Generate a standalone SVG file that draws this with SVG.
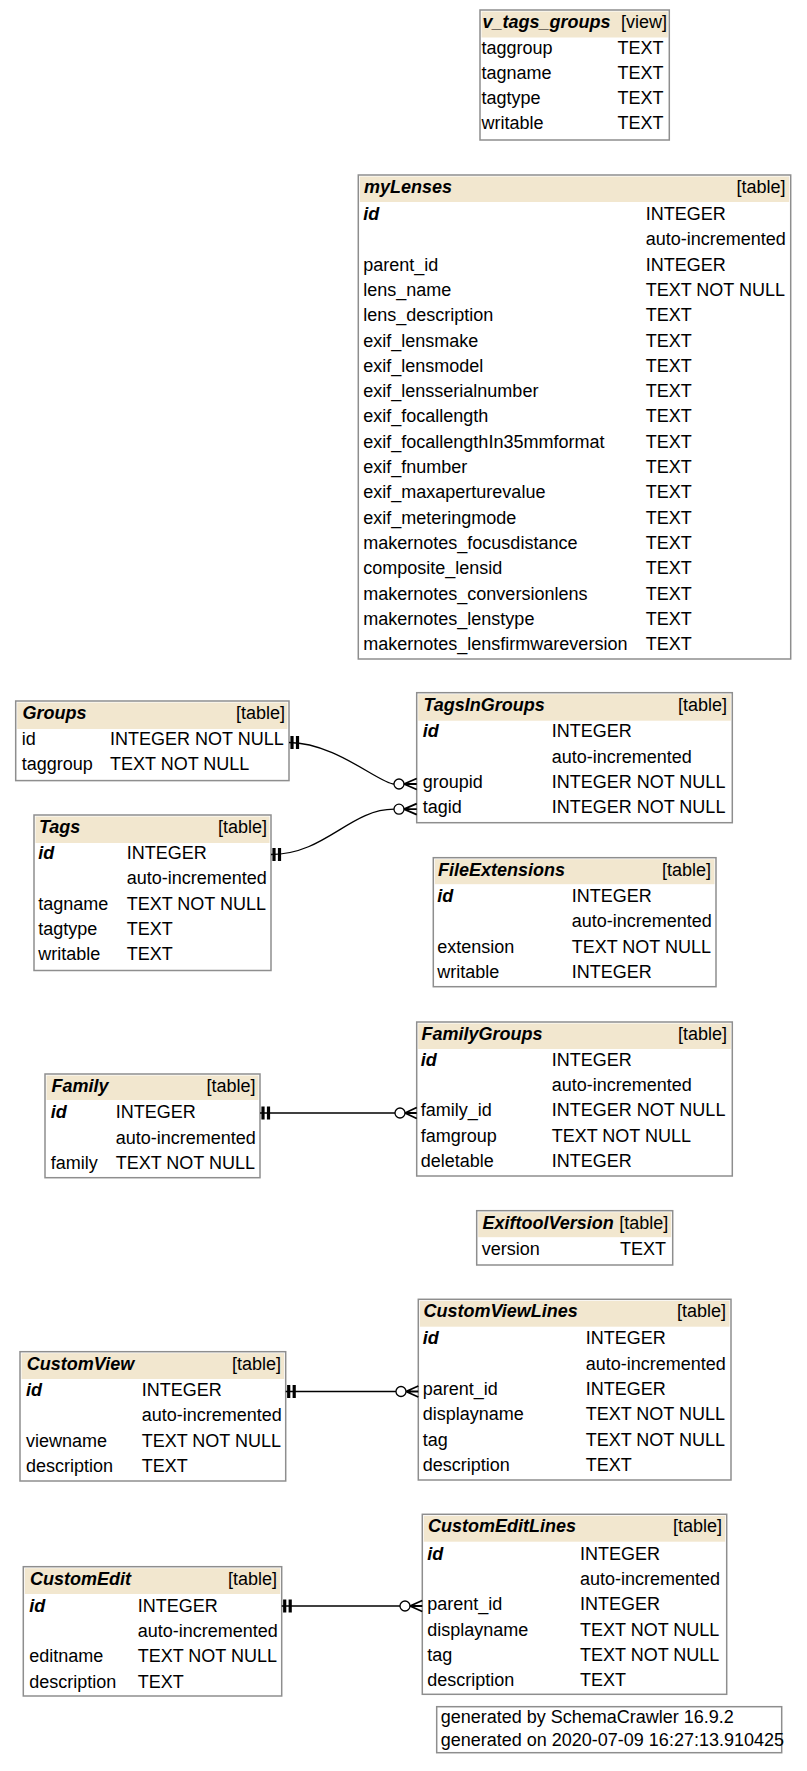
<svg xmlns="http://www.w3.org/2000/svg" width="807" height="1771" viewBox="0 0 807 1771">
<style>
text{font-family:"Liberation Sans",Arial,sans-serif;font-size:18px;fill:#000}
.hn{font-weight:bold;font-style:italic}
.pk{font-weight:bold;font-style:italic}
.r{text-anchor:end}
.box{fill:#fff;stroke:#8e8e8e;stroke-width:1.5}
.hd{fill:#f2e7cf}
.e{fill:none;stroke:#000;stroke-width:1.3}
.tee{stroke:#000;stroke-width:3.2}
.crow{fill:none;stroke:#000;stroke-width:1.8}
.dot{fill:#fff;stroke:#000;stroke-width:1.3}
</style>
<rect width="807" height="1771" fill="#fff"/>

<g id="v_tags_groups">
<rect class="box" x="480" y="10" width="189.3" height="130"/>
<rect class="hd" x="481.5" y="11.5" width="186.3" height="26"/>
<text class="hn" x="482.5" y="28">v_tags_groups</text><text class="r" x="667" y="28">[view]</text>
<text x="481.5" y="53.5">taggroup</text><text class="r" x="663.5" y="53.5">TEXT</text>
<text x="481.5" y="78.8">tagname</text><text class="r" x="663.5" y="78.8">TEXT</text>
<text x="481.5" y="104.1">tagtype</text><text class="r" x="663.5" y="104.1">TEXT</text>
<text x="481.5" y="129.4">writable</text><text class="r" x="663.5" y="129.4">TEXT</text>
</g>

<g id="myLenses">
<rect class="box" x="358.3" y="175" width="432.4" height="484"/>
<rect class="hd" x="359.8" y="176.5" width="429.4" height="25.5"/>
<text class="hn" x="364" y="193">myLenses</text><text class="r" x="785.5" y="193">[table]</text>
<text class="pk" x="363.3" y="220">id</text><text x="645.7" y="220">INTEGER</text>
<text x="645.7" y="245.3">auto-incremented</text>
<text x="363.3" y="270.6">parent_id</text><text x="645.7" y="270.6">INTEGER</text>
<text x="363.3" y="295.9">lens_name</text><text x="645.7" y="295.9">TEXT NOT NULL</text>
<text x="363.3" y="321.2">lens_description</text><text x="645.7" y="321.2">TEXT</text>
<text x="363.3" y="346.5">exif_lensmake</text><text x="645.7" y="346.5">TEXT</text>
<text x="363.3" y="371.8">exif_lensmodel</text><text x="645.7" y="371.8">TEXT</text>
<text x="363.3" y="397.1">exif_lensserialnumber</text><text x="645.7" y="397.1">TEXT</text>
<text x="363.3" y="422.4">exif_focallength</text><text x="645.7" y="422.4">TEXT</text>
<text x="363.3" y="447.7">exif_focallengthIn35mmformat</text><text x="645.7" y="447.7">TEXT</text>
<text x="363.3" y="473">exif_fnumber</text><text x="645.7" y="473">TEXT</text>
<text x="363.3" y="498.3">exif_maxaperturevalue</text><text x="645.7" y="498.3">TEXT</text>
<text x="363.3" y="523.6">exif_meteringmode</text><text x="645.7" y="523.6">TEXT</text>
<text x="363.3" y="548.9">makernotes_focusdistance</text><text x="645.7" y="548.9">TEXT</text>
<text x="363.3" y="574.2">composite_lensid</text><text x="645.7" y="574.2">TEXT</text>
<text x="363.3" y="599.5">makernotes_conversionlens</text><text x="645.7" y="599.5">TEXT</text>
<text x="363.3" y="624.8">makernotes_lenstype</text><text x="645.7" y="624.8">TEXT</text>
<text x="363.3" y="650.1">makernotes_lensfirmwareversion</text><text x="645.7" y="650.1">TEXT</text>
</g>

<g id="Groups">
<rect class="box" x="15.7" y="701" width="273.3" height="79.6"/>
<rect class="hd" x="17.2" y="702.5" width="270.3" height="26.5"/>
<text class="hn" x="22.5" y="719">Groups</text><text class="r" x="285" y="719">[table]</text>
<text x="21.7" y="745">id</text><text x="110" y="745">INTEGER NOT NULL</text>
<text x="21.7" y="770.3">taggroup</text><text x="110" y="770.3">TEXT NOT NULL</text>
</g>

<g id="Tags">
<rect class="box" x="34" y="815" width="237" height="155.5"/>
<rect class="hd" x="35.5" y="816.5" width="234" height="26.5"/>
<text class="hn" x="39" y="833">Tags</text><text class="r" x="267" y="833">[table]</text>
<text class="pk" x="38.3" y="859">id</text><text x="126.7" y="859">INTEGER</text>
<text x="126.7" y="884.3">auto-incremented</text>
<text x="38.3" y="909.6">tagname</text><text x="126.7" y="909.6">TEXT NOT NULL</text>
<text x="38.3" y="934.9">tagtype</text><text x="126.7" y="934.9">TEXT</text>
<text x="38.3" y="960.2">writable</text><text x="126.7" y="960.2">TEXT</text>
</g>

<g id="TagsInGroups">
<rect class="box" x="416.7" y="692.7" width="315.6" height="130"/>
<rect class="hd" x="418.2" y="694.2" width="312.6" height="26.5"/>
<text class="hn" x="423.5" y="710.7">TagsInGroups</text><text class="r" x="727" y="710.7">[table]</text>
<text class="pk" x="422.7" y="737.3">id</text><text x="551.7" y="737.3">INTEGER</text>
<text x="551.7" y="762.6">auto-incremented</text>
<text x="422.7" y="787.9">groupid</text><text x="551.7" y="787.9">INTEGER NOT NULL</text>
<text x="422.7" y="813.2">tagid</text><text x="551.7" y="813.2">INTEGER NOT NULL</text>
</g>

<g id="FileExtensions">
<rect class="box" x="433.3" y="857.7" width="282.7" height="129"/>
<rect class="hd" x="434.8" y="859.2" width="279.7" height="25"/>
<text class="hn" x="438" y="875.7">FileExtensions</text><text class="r" x="711" y="875.7">[table]</text>
<text class="pk" x="437.3" y="902">id</text><text x="571.7" y="902">INTEGER</text>
<text x="571.7" y="927.3">auto-incremented</text>
<text x="437.3" y="952.6">extension</text><text x="571.7" y="952.6">TEXT NOT NULL</text>
<text x="437.3" y="977.9">writable</text><text x="571.7" y="977.9">INTEGER</text>
</g>

<g id="Family">
<rect class="box" x="45" y="1074" width="215" height="103.7"/>
<rect class="hd" x="46.5" y="1075.5" width="212" height="24.5"/>
<text class="hn" x="51.5" y="1092">Family</text><text class="r" x="255.5" y="1092">[table]</text>
<text class="pk" x="50.7" y="1118.3">id</text><text x="115.7" y="1118.3">INTEGER</text>
<text x="115.7" y="1143.6">auto-incremented</text>
<text x="50.7" y="1168.9">family</text><text x="115.7" y="1168.9">TEXT NOT NULL</text>
</g>

<g id="FamilyGroups">
<rect class="box" x="416.7" y="1022" width="315.6" height="154"/>
<rect class="hd" x="418.2" y="1023.5" width="312.6" height="25.5"/>
<text class="hn" x="421.5" y="1040">FamilyGroups</text><text class="r" x="727" y="1040">[table]</text>
<text class="pk" x="420.7" y="1065.7">id</text><text x="551.7" y="1065.7">INTEGER</text>
<text x="551.7" y="1091">auto-incremented</text>
<text x="420.7" y="1116.3">family_id</text><text x="551.7" y="1116.3">INTEGER NOT NULL</text>
<text x="420.7" y="1141.6">famgroup</text><text x="551.7" y="1141.6">TEXT NOT NULL</text>
<text x="420.7" y="1166.9">deletable</text><text x="551.7" y="1166.9">INTEGER</text>
</g>

<g id="ExiftoolVersion">
<rect class="box" x="476.7" y="1210.7" width="196" height="54.3"/>
<rect class="hd" x="478.2" y="1212.2" width="193" height="25"/>
<text class="hn" x="482.5" y="1228.7">ExiftoolVersion</text><text class="r" x="668.3" y="1228.7">[table]</text>
<text x="481.7" y="1255">version</text><text class="r" x="666" y="1255">TEXT</text>
</g>

<g id="CustomView">
<rect class="box" x="20" y="1351.7" width="265.7" height="129.3"/>
<rect class="hd" x="21.5" y="1353.2" width="262.7" height="25.8"/>
<text class="hn" x="26.8" y="1369.7">CustomView</text><text class="r" x="281" y="1369.7">[table]</text>
<text class="pk" x="26" y="1396">id</text><text x="141.7" y="1396">INTEGER</text>
<text x="141.7" y="1421.3">auto-incremented</text>
<text x="26" y="1446.6">viewname</text><text x="141.7" y="1446.6">TEXT NOT NULL</text>
<text x="26" y="1471.9">description</text><text x="141.7" y="1471.9">TEXT</text>
</g>

<g id="CustomViewLines">
<rect class="box" x="418.3" y="1299.3" width="312.7" height="180.7"/>
<rect class="hd" x="419.8" y="1300.8" width="309.7" height="25.9"/>
<text class="hn" x="423.5" y="1317.3">CustomViewLines</text><text class="r" x="726" y="1317.3">[table]</text>
<text class="pk" x="422.7" y="1344.3">id</text><text x="585.7" y="1344.3">INTEGER</text>
<text x="585.7" y="1369.6">auto-incremented</text>
<text x="422.7" y="1394.9">parent_id</text><text x="585.7" y="1394.9">INTEGER</text>
<text x="422.7" y="1420.2">displayname</text><text x="585.7" y="1420.2">TEXT NOT NULL</text>
<text x="422.7" y="1445.5">tag</text><text x="585.7" y="1445.5">TEXT NOT NULL</text>
<text x="422.7" y="1470.8">description</text><text x="585.7" y="1470.8">TEXT</text>
</g>

<g id="CustomEdit">
<rect class="box" x="23.3" y="1566.7" width="258.4" height="129.3"/>
<rect class="hd" x="24.8" y="1568.2" width="255.4" height="25.8"/>
<text class="hn" x="30" y="1584.7">CustomEdit</text><text class="r" x="277" y="1584.7">[table]</text>
<text class="pk" x="29.3" y="1611.7">id</text><text x="137.7" y="1611.7">INTEGER</text>
<text x="137.7" y="1637">auto-incremented</text>
<text x="29.3" y="1662.3">editname</text><text x="137.7" y="1662.3">TEXT NOT NULL</text>
<text x="29.3" y="1687.6">description</text><text x="137.7" y="1687.6">TEXT</text>
</g>

<g id="CustomEditLines">
<rect class="box" x="422.3" y="1514.3" width="304.4" height="180"/>
<rect class="hd" x="423.8" y="1515.8" width="301.4" height="25.9"/>
<text class="hn" x="428" y="1532.3">CustomEditLines</text><text class="r" x="722" y="1532.3">[table]</text>
<text class="pk" x="427.3" y="1559.8">id</text><text x="580" y="1559.8">INTEGER</text>
<text x="580" y="1585.1">auto-incremented</text>
<text x="427.3" y="1610.4">parent_id</text><text x="580" y="1610.4">INTEGER</text>
<text x="427.3" y="1635.7">displayname</text><text x="580" y="1635.7">TEXT NOT NULL</text>
<text x="427.3" y="1661">tag</text><text x="580" y="1661">TEXT NOT NULL</text>
<text x="427.3" y="1686.3">description</text><text x="580" y="1686.3">TEXT</text>
</g>

<g id="footer">
<rect class="box" x="436.7" y="1706.7" width="345" height="46"/>
<text x="440.7" y="1722.7">generated by SchemaCrawler 16.9.2</text>
<text x="440.7" y="1746">generated on 2020-07-09 16:27:13.910425</text>
</g>

<g id="connectors">
<!-- Groups.id -> TagsInGroups.groupid -->
<path class="e" d="M289,742.5 C335,742.5 380,784 394,784"/>
<line class="tee" x1="292" y1="736" x2="292" y2="749"/><line class="tee" x1="297.5" y1="736" x2="297.5" y2="749"/>
<circle class="dot" cx="399" cy="784" r="5"/>
<path class="crow" d="M404,784 L416.7,778.5 M404,784 L416.7,784 M404,784 L416.7,789.5"/>
<!-- Tags.id -> TagsInGroups.tagid -->
<path class="e" d="M271,854.5 C325,854.5 350,809.2 394,809.2"/>
<line class="tee" x1="274" y1="848" x2="274" y2="861"/><line class="tee" x1="279.5" y1="848" x2="279.5" y2="861"/>
<circle class="dot" cx="399" cy="809.2" r="5"/>
<path class="crow" d="M404,809.2 L416.7,803.7 M404,809.2 L416.7,809.2 M404,809.2 L416.7,814.7"/>
<!-- Family.id -> FamilyGroups.family_id -->
<path class="e" d="M260,1113 L395,1113"/>
<line class="tee" x1="263" y1="1106.5" x2="263" y2="1119.5"/><line class="tee" x1="268.5" y1="1106.5" x2="268.5" y2="1119.5"/>
<circle class="dot" cx="400" cy="1113" r="5"/>
<path class="crow" d="M405,1113 L416.7,1107.5 M405,1113 L416.7,1113 M405,1113 L416.7,1118.5"/>
<!-- CustomView.id -> CustomViewLines.parent_id -->
<path class="e" d="M285.7,1391.5 L396,1391.5"/>
<line class="tee" x1="288.7" y1="1385" x2="288.7" y2="1398"/><line class="tee" x1="294.2" y1="1385" x2="294.2" y2="1398"/>
<circle class="dot" cx="401" cy="1391.5" r="5"/>
<path class="crow" d="M406,1391.5 L418.3,1386 M406,1391.5 L418.3,1391.5 M406,1391.5 L418.3,1397"/>
<!-- CustomEdit.id -> CustomEditLines.parent_id -->
<path class="e" d="M281.7,1606 L400,1606"/>
<line class="tee" x1="284.7" y1="1599.5" x2="284.7" y2="1612.5"/><line class="tee" x1="290.2" y1="1599.5" x2="290.2" y2="1612.5"/>
<circle class="dot" cx="405" cy="1606" r="5"/>
<path class="crow" d="M410,1606 L422.3,1600.5 M410,1606 L422.3,1606 M410,1606 L422.3,1611.5"/>
</g>
</svg>
